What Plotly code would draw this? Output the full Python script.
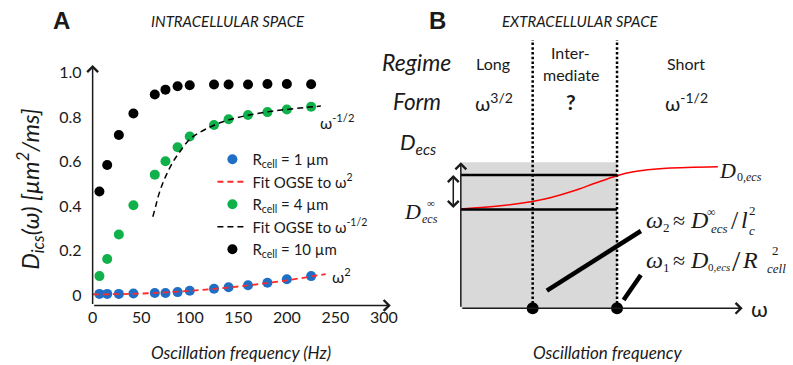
import plotly.graph_objects as go

W, H = 793, 365
SANS = "Lato"
SERIF = "Liberation Serif"
INK = "#1a1a1a"

# ---------------- Panel A data ----------------
freq_hz = [7, 15, 27, 42, 64, 75, 87.5, 100, 125, 140, 160, 180, 200, 225]
d_r1 = [0.005, 0.005, 0.005, 0.007, 0.009, 0.009, 0.013, 0.019, 0.028, 0.035, 0.044, 0.055, 0.071, 0.085]
d_r4 = [0.085, 0.162, 0.272, 0.403, 0.541, 0.601, 0.664, 0.712, 0.764, 0.790, 0.809, 0.822, 0.834, 0.846]
d_r10 = [0.465, 0.584, 0.719, 0.816, 0.901, 0.923, 0.938, 0.943, 0.946, 0.946, 0.946, 0.948, 0.948, 0.947]

fit_w2_hz = [0, 40, 80, 120, 160, 200, 240]
fit_w2_val = [0.003, 0.005, 0.013, 0.026, 0.043, 0.066, 0.094]

fit_wm12_hz = [62, 65, 68, 72, 77, 83, 90, 100, 110, 125, 140, 160, 180, 200, 220, 235]
fit_wm12_val = [0.352, 0.40, 0.45, 0.50, 0.55, 0.60, 0.645, 0.70, 0.73, 0.763, 0.787, 0.808, 0.823, 0.834, 0.843, 0.849]

x_ticks = [0, 50, 100, 150, 200, 250, 300]
y_ticks = [0, 0.2, 0.4, 0.6, 0.8, 1.0]
y_tick_labels = ["0", "0.2", "0.4", "0.6", "0.8", "1.0"]

legend_names = ["R<sub>cell</sub> = 1 µm", "Fit OGSE to ω<sup>2</sup>", "R<sub>cell</sub> = 4 µm",
                "Fit OGSE to ω<sup>-1/2</sup>", "R<sub>cell</sub> = 10 µm"]

# ---------------- Panel B schematic (conceptual units) ----------------
regime_bounds = [72.4, 157.4]          # omega_2, omega_1
d_inf_level = 98.8
d_0_level = 133.3
axis_top = 146.0
axis_right = 284.0
divider_top = 268.3
red_w = [0, 40, 72, 91, 114, 135, 157.4, 174, 207, 259]
red_d = [99.3, 102.5, 106.8, 110.8, 117.5, 125.0, 132.6, 136.5, 140.0, 141.6]
pointer_w2 = ([86.7, 181.4], [17.6, 77.3])
pointer_w1 = ([164.0, 181.4], [8.3, 33.3])

# ---------------- figure ----------------
fig = go.Figure()

A_RED = "#ff2a2a"
A_BLUE = "#1f6fc6"
A_GREEN = "#10b04a"

fig.add_trace(go.Scatter(x=freq_hz, y=d_r10, mode="markers", name=legend_names[4], legendrank=5,
                         marker=dict(color="black", size=10), cliponaxis=False))
fig.add_trace(go.Scatter(x=freq_hz, y=d_r4, mode="markers", name=legend_names[2], legendrank=3,
                         marker=dict(color=A_GREEN, size=10), cliponaxis=False))
fig.add_trace(go.Scatter(x=freq_hz, y=d_r1, mode="markers", name=legend_names[0], legendrank=1,
                         marker=dict(color=A_BLUE, size=10), cliponaxis=False))
fig.add_trace(go.Scatter(x=fit_w2_hz, y=fit_w2_val, mode="lines", name=legend_names[1], legendrank=2,
                         line=dict(color=A_RED, width=1.8, dash="6px,4px", shape="spline"), cliponaxis=False))
fig.add_trace(go.Scatter(x=fit_wm12_hz, y=fit_wm12_val, mode="lines", name=legend_names[3], legendrank=4,
                         line=dict(color="black", width=1.5, dash="6px,4px", shape="spline"), cliponaxis=False))

# Panel B traces
fig.add_trace(go.Scatter(x=red_w, y=red_d, mode="lines", line=dict(color="#ff0000", width=1.5, shape="spline"),
                         xaxis="x2", yaxis="y2", showlegend=False, cliponaxis=False))
for b in regime_bounds:
    fig.add_trace(go.Scatter(x=[b, b], y=[0, divider_top], mode="lines",
                             line=dict(color="black", width=2.5, dash="2.5px,2.2px"),
                             xaxis="x2", yaxis="y2", showlegend=False, cliponaxis=False))
for lvl in [d_inf_level, d_0_level]:
    fig.add_trace(go.Scatter(x=[0, regime_bounds[1]], y=[lvl, lvl], mode="lines",
                             line=dict(color="black", width=2.5),
                             xaxis="x2", yaxis="y2", showlegend=False, cliponaxis=False))
for pw, pd in [pointer_w2, pointer_w1]:
    fig.add_trace(go.Scatter(x=pw, y=pd, mode="lines", line=dict(color="black", width=4.5),
                             xaxis="x2", yaxis="y2", showlegend=False, cliponaxis=False))
fig.add_trace(go.Scatter(x=regime_bounds, y=[0, 0], mode="markers", marker=dict(color="black", size=12),
                         xaxis="x2", yaxis="y2", showlegend=False, cliponaxis=False))

shapes = [dict(type="rect", xref="x2", yref="y2", x0=0, x1=regime_bounds[1], y0=0, y1=axis_top,
               fillcolor="#d9d9d9", line=dict(width=0), layer="below")]

# ---------------- annotations ----------------
ann = []

def note(x, y, text, size=16, family=SANS, color=INK, xanchor="center", yanchor="middle", **kw):
    ann.append(dict(x=x / W, y=1 - y / H, xref="paper", yref="paper", text=text, showarrow=False,
                    font=dict(size=size, family=family, color=color), xanchor=xanchor, yanchor=yanchor, **kw))

def arrow(x, y, ax, ay, xr, yr, both=False, width=1.5):
    d = dict(x=x, y=y, ax=ax, ay=ay, xref=xr, yref=yr, axref=xr, ayref=yr, text="", showarrow=True,
             arrowhead=4, arrowsize=1.4, arrowwidth=width, arrowcolor=INK, standoff=0, startstandoff=0)
    if both:
        d.update(arrowside="end+start", startarrowhead=4, startarrowsize=1.4)
    ann.append(d)

Y0 = -0.047
arrow(307, Y0, 0, Y0, "x", "y")
arrow(0, 1.034, 0, Y0, "x", "y")
arrow(axis_right, 0, 0, 0, "x2", "y2")
arrow(0, axis_top, 0, 0, "x2", "y2")
arrow(-7.6, d_0_level, -7.6, d_inf_level, "x2", "y2", both=True)

# Panel A texts
note(57, 21, "<b>A</b>", size=24, family="Liberation Sans")
note(225, 21, "<i>INTRACELLULAR SPACE</i>", size=15)
note(238, 352, "<i>Oscillation frequency (Hz)</i>", size=17)
note(25, 189, "<i>D<sub>ics</sub>(ω) [µm<sup>2</sup>/ms]</i>", size=23.5, textangle=-90)
note(315, 122, "ω<sup>-1/2</sup>", size=16, xanchor="left")
note(327, 275, "ω<sup>2</sup>", size=16, xanchor="left")

# Panel B texts
note(436, 21, "<b>B</b>", size=24, family="Liberation Sans")
note(580, 21, "<i>EXTRACELLULAR SPACE</i>", size=15)
note(607, 352, "<i>Oscillation frequency</i>", size=17)
note(415, 62, "<i>Regime</i>", size=23)
note(415, 102, "<i>Form</i>", size=22.5)
note(396, 143, "<i>D<sub>ecs</sub></i>", size=22, xanchor="left")
note(492, 63, "Long", size=16)
note(570, 53, "Inter-", size=16)
note(570, 74, "mediate", size=16)
note(686, 64, "Short", size=16)
note(493, 102, "ω<sup>3/2</sup>", size=20)
note(570, 102, "<b>?</b>", size=21)
note(687, 102, "ω<sup>-1/2</sup>", size=20)
note(760, 308, "ω", size=22)

# serif math labels
note(411, 212, "<i>D</i>", size=22, family=SERIF)
note(429, 203, "∞", size=11, family=SERIF)
note(428, 219, "<i>ecs</i>", size=12, family=SERIF)

note(728, 170, "<i>D</i>", size=22, family=SERIF)
note(736, 177, "0<i>,ecs</i>", size=12, family=SERIF, xanchor="left")

note(644, 220, "<i>ω</i>", size=24, family=SERIF, xanchor="left")
note(667, 227, "2", size=13, family=SERIF)
note(679, 220, "≈", size=22, family=SERIF)
note(699, 220, "<i>D</i>", size=24, family=SERIF)
note(712, 212, "∞", size=12, family=SERIF)
note(720, 228, "<i>ecs</i>", size=13, family=SERIF)
note(736, 220, "/", size=26, family=SERIF)
note(745, 220, "<i>l</i>", size=24, family=SERIF)
note(753, 210, "2", size=13, family=SERIF)
note(753, 230, "<i>c</i>", size=13, family=SERIF)

note(644, 260, "<i>ω</i>", size=24, family=SERIF, xanchor="left")
note(667, 267, "1", size=13, family=SERIF)
note(679, 260, "≈", size=22, family=SERIF)
note(699, 260, "<i>D</i>", size=24, family=SERIF)
note(706, 267, "0<i>,ecs</i>", size=11, family=SERIF, xanchor="left")
note(737, 260, "/", size=30, family=SERIF)
note(751, 260, "<i>R</i>", size=24, family=SERIF)
note(776, 250, "2", size=13, family=SERIF)
note(777, 268, "<i>cell</i>", size=13, family=SERIF)

# ---------------- layout ----------------
xa_left, xa_right = 88.3, 395.0
px_per_hz = 0.9785
ya_top, ya_bot = 55.0, 305.5
px_per_unit = 222.5
y_zero_px = 295.0

fig.update_layout(
    width=W, height=H, margin=dict(l=0, r=0, t=0, b=0),
    paper_bgcolor="white", plot_bgcolor="rgba(0,0,0,0)",
    font=dict(family=SANS, color=INK),
    xaxis=dict(domain=[xa_left / W, xa_right / W], range=[0, (xa_right - xa_left) / px_per_hz],
               tickvals=x_ticks, ticktext=[str(t) for t in x_ticks], showgrid=False, zeroline=False,
               showline=False, ticks="", tickfont=dict(size=16, family=SANS, color=INK), anchor="y"),
    yaxis=dict(domain=[1 - ya_bot / H, 1 - ya_top / H],
               range=[(y_zero_px - ya_bot) / px_per_unit, (y_zero_px - ya_top) / px_per_unit],
               tickvals=y_ticks, ticktext=y_tick_labels, showgrid=False, zeroline=False, showline=False,
               ticks="", ticklabelstandoff=10, tickfont=dict(size=16, family=SANS, color=INK), anchor="x"),
    xaxis2=dict(domain=[400 / W, 1], range=[400 - 459.3, 793 - 459.3], visible=False, anchor="y2"),
    yaxis2=dict(domain=[0, 1], range=[308.3 - 365, 308.3], visible=False, anchor="x2"),
    legend=dict(x=209 / W, y=1 - 143 / H, xanchor="left", yanchor="top", bgcolor="rgba(0,0,0,0)",
                font=dict(size=15, family=SANS, color=INK), itemwidth=30, tracegroupgap=0),
    shapes=shapes,
    annotations=ann,
)

fig.write_html("out.html", post_script="document.body.style.margin='0px';",
               config={"displayModeBar": False})
